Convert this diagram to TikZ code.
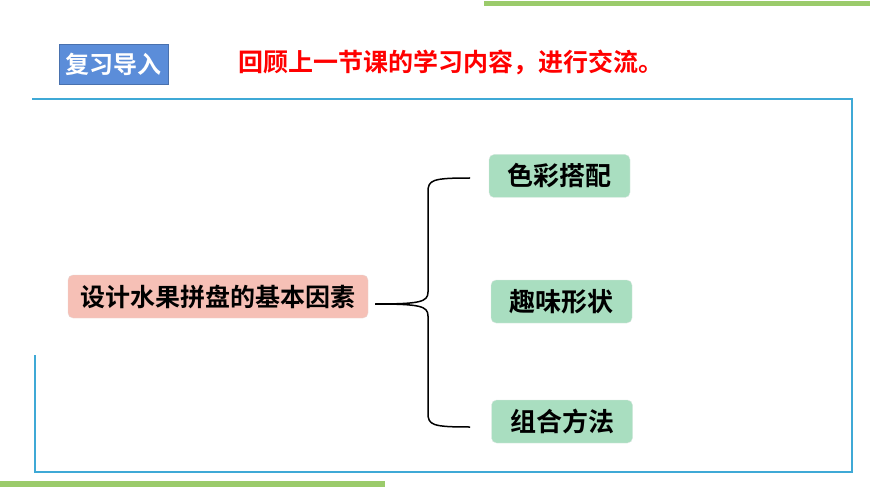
\documentclass[tikz,border=0pt]{standalone}
\usepackage{fontspec}
\setmainfont{Noto Sans CJK SC}[BoldFont={Noto Sans CJK SC Bold}]
\definecolor{framec}{HTML}{3FA9D6}
\definecolor{barc}{HTML}{9BCB6B}
\definecolor{tagc}{HTML}{5B8DD9}
\definecolor{rootc}{HTML}{F6C0B6}
\definecolor{leafc}{HTML}{A9DEC0}
\begin{document}
\begin{tikzpicture}[x=1pt,y=-1pt,
	rootbox/.style={draw=rootc!80!black!40, fill=rootc, rounded corners=5pt, minimum width=300pt, minimum height=43pt, font=\fontsize{25}{27}\selectfont\bfseries},
	leafbox/.style={draw=leafc!80!black!30, fill=leafc, rounded corners=5pt, minimum width=141pt, minimum height=43pt, font=\fontsize{26}{28}\selectfont\bfseries}]
	\useasboundingbox (0,0) rectangle (870,489);
	\fill[barc] (484,1) rectangle (870,6);
	\fill[barc] (0,481) rectangle (385,487);
	\draw[framec, line width=1.5pt] (32,99) -- (852,99) -- (852,472) -- (35,472) -- (35,355);
	\node[fill=tagc, draw=tagc!80!black, minimum width=109pt, minimum height=40pt, inner sep=1pt, text=white, font=\fontsize{24}{26}\selectfont\bfseries] (tag) at (113.5,64) {复习导入};
	\node[text=red, font=\fontsize{25}{27}\selectfont\bfseries] (title) at (451,62) {回顾上一节课的学习内容，进行交流。};
	\node[rootbox] (root) at (218,296.5) {设计水果拼盘的基本因素};
	\node[leafbox] (color) at (559.5,176) {色彩搭配};
	\node[leafbox] (shape) at (561.5,301.5) {趣味形状};
	\node[leafbox] (combo) at (562,421.5) {组合方法};
	\coordinate (ctop) at (470,178);
	\coordinate (cbot) at (470,427);
	\draw[line width=1.5pt] (ctop) .. controls (432,178) and (428,180) .. (428,192) -- (428,292)
		.. controls (428,302) and (420,304) .. (375,304);
	\draw[line width=1.5pt] (375,304) .. controls (420,304) and (428,306) .. (428,316) -- (428,413)
		.. controls (428,425) and (432,427) .. (cbot);
\end{tikzpicture}
\end{document}
